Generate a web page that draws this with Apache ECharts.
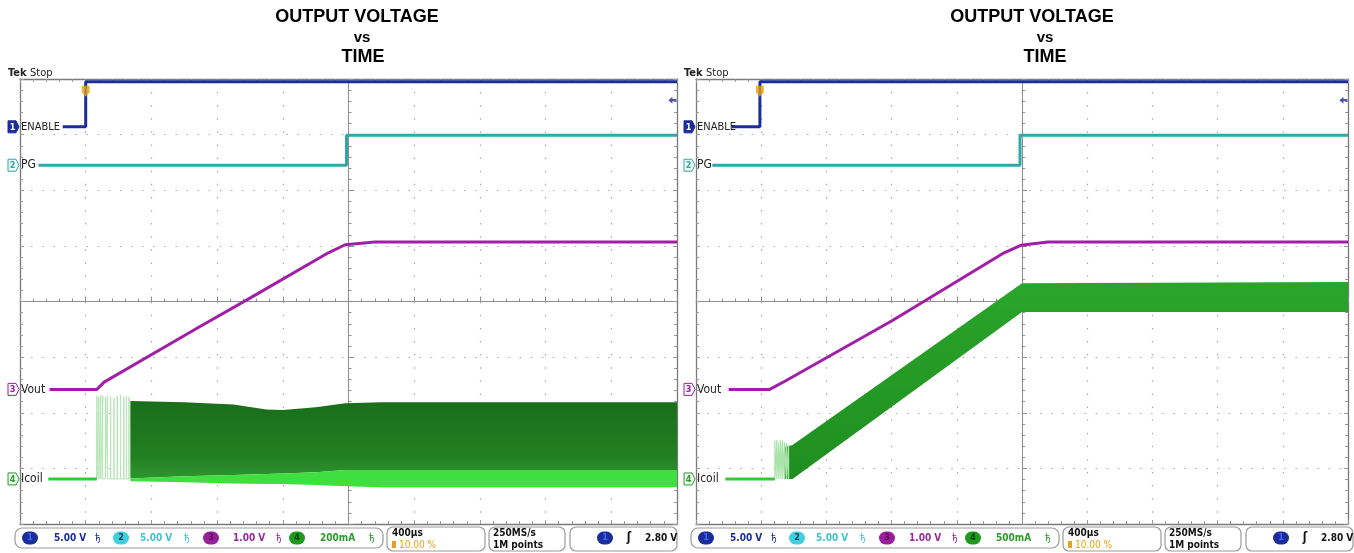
<!DOCTYPE html>
<html><head><meta charset="utf-8">
<script src="https://cdn.jsdelivr.net/npm/echarts@6/dist/echarts.min.js"></script>
<style>html,body{margin:0;padding:0;background:#fff}#c{width:1354px;height:553px}</style>
</head><body><div id="c"></div>
<script>
// ---- data (screen divisions, measured from graticule centre: x -5..5, y -4..4) ----
// Left scope (Icoil 200mA/div)
const enableXL = [-4.35, -4.0, -4.0, 5.0];
const enableYL = [3.14, 3.14, 3.95, 3.95];
const pgXL = [-4.72, -0.03, -0.03, 5.0];
const pgYL = [2.45, 2.45, 2.99, 2.99];
const voutXL = [-4.55, -3.83, -3.72, -2.26, -1.5, -0.3, -0.05, 0.4, 5.0];
const voutYL = [-1.58, -1.58, -1.45, -0.45, 0.06, 0.88, 1.02, 1.07, 1.07];
const icoilBaseXL = [-4.57, -3.83];
const icoilBaseYL = [-3.19, -3.19];
const spikeXL = [-3.83, -3.80, -3.77, -3.74, -3.70, -3.67, -3.62, -3.57, -3.52, -3.47, -3.42, -3.38, -3.34];
const spikeTopL = [-1.70, -1.72, -1.68, -1.70, -1.72, -1.69, -1.70, -1.74, -1.70, -1.68, -1.72, -1.70, -1.72];
const bandXL = [-3.32, -2.5, -1.75, -1.25, -1.0, -0.5, -0.05, 0.5, 1.5, 2.5, 3.5, 4.5, 5.0];
const bandTopL = [-1.79, -1.81, -1.85, -1.94, -1.95, -1.90, -1.83, -1.81, -1.81, -1.81, -1.81, -1.81, -1.81];
const bandMidL = [-3.18, -3.14, -3.12, -3.10, -3.09, -3.07, -3.03, -3.03, -3.03, -3.03, -3.03, -3.03, -3.03];
const bandBotL = [-3.23, -3.25, -3.27, -3.28, -3.28, -3.30, -3.32, -3.34, -3.34, -3.34, -3.34, -3.34, -3.34];
// Right scope (Icoil 500mA/div)
const enableXR = [-4.45, -4.02, -4.02, 5.0];
const enableYR = [3.14, 3.14, 3.95, 3.95];
const pgXR = [-4.75, -0.03, -0.03, 5.0];
const pgYR = [2.45, 2.45, 2.99, 2.99];
const voutXR = [-4.5, -3.87, -3.63, -2.0, -0.3, -0.02, 0.4, 5.0];
const voutYR = [-1.58, -1.58, -1.43, -0.35, 0.86, 1.01, 1.07, 1.07];
const icoilBaseXR = [-4.55, -3.79];
const icoilBaseYR = [-3.19, -3.19];
const spikeXR = [-3.79, -3.76, -3.73, -3.70, -3.67, -3.64, -3.61, -3.58];
const spikeTopR = [-2.50, -2.49, -2.52, -2.49, -2.50, -2.53, -2.55, -2.58];
const bandXR = [-3.65, -3.52, 0.0, 5.0];
const bandTopR = [-2.62, -2.58, 0.33, 0.35];
const bandBotR = [-3.19, -3.19, -0.19, -0.19];
// trigger markers
const trigPosL = [-4.0, 3.78], trigPosR = [-4.02, 3.78];
const trigLvlL = [4.93, 3.62], trigLvlR = [4.93, 3.62];
// text
const titleLines = ['OUTPUT VOLTAGE', 'vs', 'TIME'];
const chanNames = ['ENABLE', 'PG', 'Vout', 'Icoil'];
const chanScaleL = ['5.00 V', '5.00 V', '1.00 V', '200mA'];
const chanScaleR = ['5.00 V', '5.00 V', '1.00 V', '500mA'];
const timeDiv = '400µs', trigPct = '10.00 %', sampleRate = '250MS/s', recLen = '1M points', trigLevel = '2.80 V';

// ---- styling ----
const C1 = '#1b2c9b', C2 = '#2fa8a8', C3 = '#a11fa6', C4 = '#3cc63c';
const C2T = '#3fc3d3';
const GL = {left: 20, top: 79, width: 657, height: 445};
const GR = {left: 696, top: 79, width: 652, height: 445};
const FONT = "'DejaVu Sans Condensed','DejaVu Sans',sans-serif";

const zip = (xs, ys) => xs.map((x, i) => [x, ys[i]]);
const spikes = (xs, tops, base) => {
  const out = [];
  xs.forEach((x, i) => { out.push([x, base], [x, tops[i]], [x, base]); });
  return out;
};

function centerX(gi) {
  return {gridIndex: gi, type: 'value', min: -5, max: 5, interval: 1,
    axisLine: {show: true, onZero: true, lineStyle: {color: '#8e8e8e', width: 1}},
    axisTick: {show: true, inside: true, length: 5, lineStyle: {color: '#8e8e8e'}},
    minorTick: {show: true, splitNumber: 5, length: 3, lineStyle: {color: '#8e8e8e'}},
    axisLabel: {show: false},
    splitLine: {show: true, lineStyle: {color: '#a8a8a8', width: 1.2, type: [1.5, 11.6]}}};
}
function centerY(gi) {
  return {gridIndex: gi, type: 'value', min: -4, max: 4, interval: 1,
    axisLine: {show: true, onZero: true, lineStyle: {color: '#8e8e8e', width: 1}},
    axisTick: {show: true, inside: true, length: 5, lineStyle: {color: '#8e8e8e'}},
    minorTick: {show: true, splitNumber: 5, length: 3, lineStyle: {color: '#8e8e8e'}},
    axisLabel: {show: false},
    splitLine: {show: true, lineStyle: {color: '#a8a8a8', width: 1.2, type: [1.5, 9.6]}}};
}
function borderAxis(gi, isX, pos) {
  return {gridIndex: gi, type: 'value', position: pos,
    min: isX ? -5 : -4, max: isX ? 5 : 4, interval: 1,
    axisLine: {show: true, onZero: false, lineStyle: {color: '#7a7a7a', width: 1.3}},
    axisTick: {show: true, inside: true, length: 4, lineStyle: {color: '#9a9a9a'}},
    minorTick: {show: true, splitNumber: 5, length: 3, lineStyle: {color: '#9a9a9a'}},
    axisLabel: {show: false}, splitLine: {show: false}};
}

function bandSeries(xi, xs, top, bot, fill, z) {
  return {type: 'custom', xAxisIndex: xi, yAxisIndex: xi, coordinateSystem: 'cartesian2d',
    data: [[xs[0], top[0]]], silent: true, z: z, clip: true,
    renderItem: (params, api) => {
      const pts = xs.map((x, i) => api.coord([x, top[i]]))
        .concat(xs.map((x, i) => api.coord([x, bot[i]])).reverse());
      return {type: 'polygon', shape: {points: pts}, style: {fill: fill}};
    }};
}
function lineS(xi, data, color, width, z) {
  return {type: 'line', xAxisIndex: xi, yAxisIndex: xi, data: data, symbol: 'none',
    lineStyle: {color: color, width: width}, z: z, silent: true, animation: false};
}

const darkGradL = new echarts.graphic.LinearGradient(0, 0, 0, 1, [
  {offset: 0, color: '#1a6e1a'}, {offset: 0.7, color: '#217f21'}, {offset: 1, color: '#2e962e'}]);
const bandGradR = new echarts.graphic.LinearGradient(0, 0, 0, 1, [
  {offset: 0, color: '#2aa52a'}, {offset: 1, color: '#1f8e1f'}]);

const arrowPath = 'path://M0,5 L5,0 L5,3.5 L10,3.5 L10,6.5 L5,6.5 L5,10 Z';
const trigPath = 'path://M0,0 L10,0 L10,7 L5,12 L0,7 Z';

const series = [];
[[0, enableXL, enableYL, pgXL, pgYL, voutXL, voutYL, icoilBaseXL, icoilBaseYL, trigPosL, trigLvlL],
 [3, enableXR, enableYR, pgXR, pgYR, voutXR, voutYR, icoilBaseXR, icoilBaseYR, trigPosR, trigLvlR]]
.forEach(([xi, ex, ey, px, py, vx, vy, ix, iy, tp, tl]) => {
  series.push(lineS(xi, zip(ex, ey), C1, 3, 6));
  series.push(lineS(xi, zip(px, py), C2, 3, 6));
  series.push(lineS(xi, zip(vx, vy), C3, 3, 6));
  series.push(lineS(xi, zip(ix, iy), C4, 3, 5));
  series.push({type: 'scatter', xAxisIndex: xi, yAxisIndex: xi, data: [tp], symbol: trigPath,
    symbolSize: [8, 11], itemStyle: {color: '#e6a21a'}, z: 8, silent: true});
  series.push({type: 'scatter', xAxisIndex: xi, yAxisIndex: xi, data: [tl], symbol: arrowPath,
    symbolSize: [8, 7], itemStyle: {color: C1}, z: 8, silent: true});
});
series.push(lineS(0, spikes(spikeXL, spikeTopL, -3.19), '#b6e4b6', 1, 4));
series.push(bandSeries(0, bandXL, bandTopL, bandMidL, darkGradL, 3));
series.push(bandSeries(0, bandXL, bandMidL, bandBotL, '#3fdf3f', 3));
series.push(lineS(3, spikes(spikeXR, spikeTopR, -3.19), '#a9e3a9', 1.2, 4));
series.push(bandSeries(3, bandXR, bandTopR, bandBotR, bandGradR, 3));

const option = {
  animation: false,
  backgroundColor: '#ffffff',
  grid: [Object.assign({}, GL), Object.assign({}, GL), Object.assign({}, GR), Object.assign({}, GR)],
  xAxis: [centerX(0), borderAxis(1, true, 'bottom'), borderAxis(1, true, 'top'),
          centerX(2), borderAxis(3, true, 'bottom'), borderAxis(3, true, 'top')],
  yAxis: [centerY(0), borderAxis(1, false, 'left'), borderAxis(1, false, 'right'),
          centerY(2), borderAxis(3, false, 'left'), borderAxis(3, false, 'right')],
  series: series
};

const chart = echarts.init(document.getElementById('c'), null, {renderer: 'canvas'});
chart.setOption(option);

// ---- annotations ----
const g = [];
function txt(x, y, text, opt) {
  g.push({type: 'text', x: x, y: y, z: 50, silent: true,
    style: Object.assign({text: text, fill: '#111', font: '11px ' + FONT, textAlign: 'left', textVerticalAlign: 'middle'}, opt || {})});
}
function rect(x, y, w, h, r, fill, stroke, lw) {
  g.push({type: 'rect', x: x, y: y, z: 45, silent: true, shape: {x: 0, y: 0, width: w, height: h, r: r},
    style: {fill: fill, stroke: stroke, lineWidth: lw || 1}});
}
function pill(x, y, color, num, numColor) {
  rect(x, y - 6.5, 16, 13, 6.5, color, null);
  txt(x + 8, y, num, {fill: numColor, font: 'bold 9px ' + FONT, textAlign: 'center'});
}
function chanMarker(x, y, idx, color, filled) {
  g.push({type: 'polygon', z: 46, silent: true,
    shape: {points: [[x, y - 6], [x + 8, y - 6], [x + 11, y], [x + 8, y + 6], [x, y + 6]]},
    style: {fill: filled ? color : '#eef8f4', stroke: color, lineWidth: 1}});
  txt(x + 4.5, y + 0.5, String(idx), {fill: filled ? '#fff' : color, font: 'bold 9px ' + FONT, textAlign: 'center'});
}

const titleCx = [[357, 362, 363], [1032, 1045, 1045]];
const titleY = [17, 38, 57];
const titleFont = ['bold 18px "Liberation Sans",Arial,sans-serif', 'bold 15px "Liberation Sans",Arial,sans-serif', 'bold 18px "Liberation Sans",Arial,sans-serif'];

[[0, GL, chanScaleL, [enableYL[0], pgYL[0], voutYL[0], icoilBaseYL[0]]],
 [2, GR, chanScaleR, [enableYR[0], pgYR[0], voutYR[0], icoilBaseYR[0]]]].forEach(([gi, G, scales, levels], p) => {
  // titles
  titleLines.forEach((t, i) => txt(titleCx[p][i], titleY[i], t, {font: titleFont[i], textAlign: 'center', fill: '#000'}));
  // Tek Stop
  txt(G.left - 12, 73, 'Tek', {font: 'bold 11px ' + FONT, fill: '#222'});
  txt(G.left + 10, 73, 'Stop', {font: '11px ' + FONT, fill: '#222'});
  // channel markers
  const colors = [C1, C2, C3, '#2e9a2e'];
  levels.forEach((lv, i) => {
    const py = chart.convertToPixel({xAxisIndex: gi === 0 ? 0 : 3, yAxisIndex: gi === 0 ? 0 : 3}, [0, lv])[1];
    chanMarker(G.left - 12, py, i + 1, colors[i], i === 0);
    txt(G.left + 1, py, chanNames[i], {font: (i === 0 ? '11px ' : '12px ') + FONT, fill: '#222'});
  });
  // status bar
  const L = G.left;
  rect(L - 5, 528, 368, 20, 7, '#fff', '#9a9a9a', 1.2);
  const chanTxt = [C1, C2T, '#9a2a9a', '#2a9a2a'];
  const pillCol = [C1, '#3fd0e0', '#9a1f9a', '#1f9a1f'];
  const pillNum = ['#4466ff', '#1a3a5a', '#5a105a', '#0a400a'];
  const pillX = [2, 93, 183, 269];
  const valX = [34, 120, 213, 300];
  const iconX = [75, 164, 256, 349];
  scales.forEach((s, i) => {
    pill(L + pillX[i], 538, pillCol[i], String(i + 1), pillNum[i]);
    txt(L + valX[i], 538, s, {font: 'bold 10px ' + FONT, fill: chanTxt[i]});
    txt(L + iconX[i], 538, 'ђ', {font: '10px ' + FONT, fill: chanTxt[i]});
  });
  rect(L + 367, 527, 98, 24, 6, '#fff', '#9a9a9a', 1.2);
  txt(L + 372, 533, timeDiv, {font: 'bold 10px ' + FONT, fill: '#111'});
  rect(L + 372, 541, 4, 7, 0, '#e6a21a', null);
  txt(L + 379, 545, trigPct, {font: '10px ' + FONT, fill: '#e6a21a'});
  rect(L + 469, 527, 76, 24, 6, '#fff', '#9a9a9a', 1.2);
  txt(L + 473, 533, sampleRate, {font: 'bold 10px ' + FONT, fill: '#111'});
  txt(L + 473, 545, recLen, {font: 'bold 10px ' + FONT, fill: '#111'});
  rect(L + 550, 527, 107, 24, 6, '#fff', '#9a9a9a', 1.2);
  pill(L + 577, 538, C1, '1', '#4466ff');
  txt(L + 609, 538, 'ʃ', {font: 'bold 12px ' + FONT, fill: '#111', textAlign: 'center'});
  txt(L + 625, 538, trigLevel, {font: 'bold 10px ' + FONT, fill: '#111'});
});

chart.setOption({graphic: g});
</script>
</body></html>
